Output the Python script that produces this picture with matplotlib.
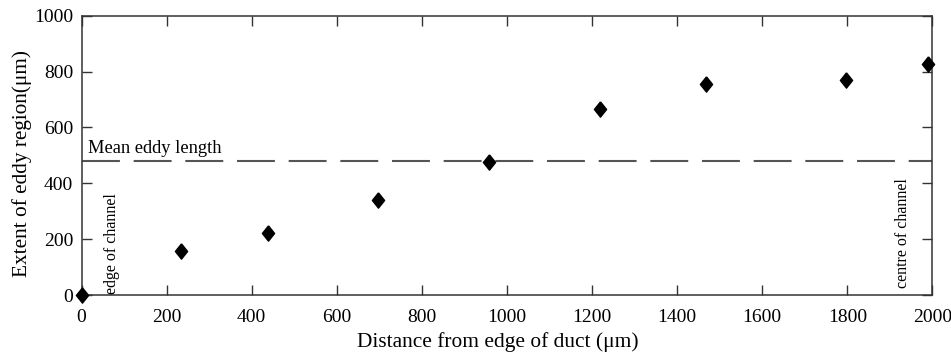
import matplotlib
matplotlib.use("Agg")
import matplotlib.pyplot as plt

distance_um = [0, 235, 439, 697, 958, 1218, 1468, 1797, 1990]
eddy_extent_um = [0, 158, 221, 339, 475, 667, 754, 770, 827]
mean_eddy_length = 480
x_ticks = [0, 200, 400, 600, 800, 1000, 1200, 1400, 1600, 1800, 2000]
y_ticks = [0, 200, 400, 600, 800, 1000]

plt.rcParams['font.family'] = ['Liberation Serif', 'DejaVu Serif']

fig = plt.figure(figsize=(9.51, 3.55), dpi=100)
ax = fig.add_axes([0.0857, 0.169, 0.8948, 0.7868])

ax.axhline(mean_eddy_length, color='#555555', lw=1.5, dashes=(18.2, 6.6), zorder=1)

diamond = [(0, 1), (0.8, 0), (0, -1), (-0.8, 0), (0, 1)]
ax.plot(distance_um, eddy_extent_um, linestyle='none', marker=diamond,
        markersize=11, color='black', clip_on=False, zorder=3)

ax.set_xlim(0, 2000)
ax.set_ylim(0, 1000)
ax.set_xticks(x_ticks)
ax.set_yticks(y_ticks)
ax.tick_params(direction='in', length=7, width=1, color='#333333',
               top=True, right=True, labelsize=14, pad=6)
ax.tick_params(axis='x', pad=10)
for s in ax.spines.values():
    s.set_color('#333333')
    s.set_linewidth(1.1)

fig.text(498 / 951, 1 - 347 / 355, 'Distance from edge of duct (μm)', fontsize=15.4,
         ha='center', va='baseline')
fig.text(22 / 951, 1 - 164 / 355, 'Extent of eddy region(μm)', fontsize=15.3,
         ha='center', va='center', rotation=90)

ax.text(15, 508, 'Mean eddy length', fontsize=13.3, ha='left', va='baseline')
ax.text(72, 5, 'edge of channel', fontsize=11.5, rotation=90, ha='center', va='bottom')
ax.text(1931, 25, 'centre of channel', fontsize=11.5, rotation=90, ha='center', va='bottom')

fig.savefig('out.png', dpi=100)
